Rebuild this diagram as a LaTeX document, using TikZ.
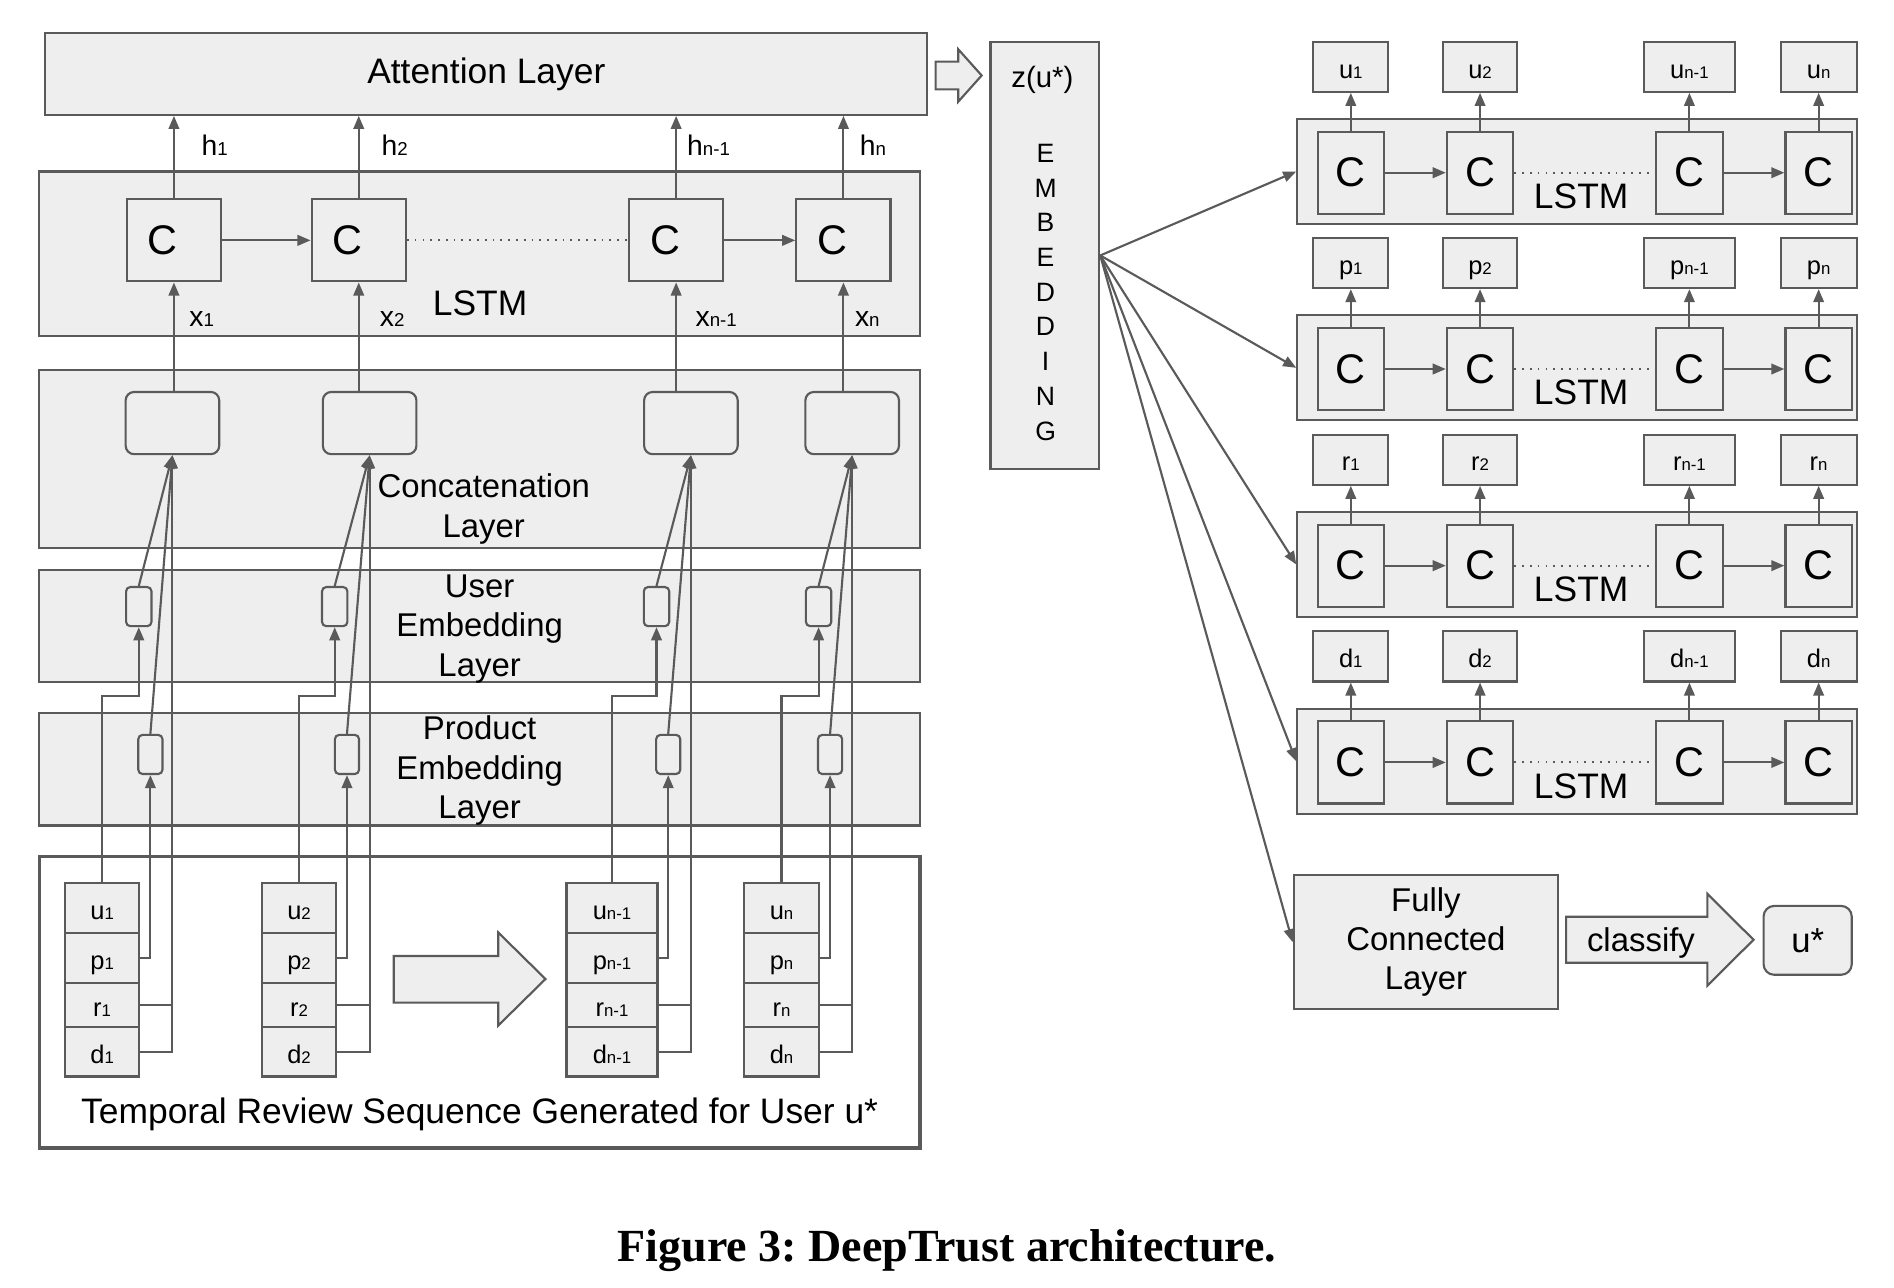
\documentclass[tikz,border=0pt]{standalone}
\usepackage{fontspec}
\setmainfont{Liberation Sans}
\newfontfamily\captionfont{Liberation Serif}
\usepackage{xcolor}
\usepackage{graphicx}
\usepackage{tikz}
\usetikzlibrary{arrows.meta,positioning}
\definecolor{linegray}{RGB}{90,90,90}
\definecolor{boxgray}{RGB}{238,238,238}
\newcommand{\lsub}[1]{\scalebox{0.66}{#1}}
\frenchspacing

\begin{document}
\begin{tikzpicture}[x=0.012cm, y=-0.012cm, line width=0.6pt]
    % Define styles
    \tikzset{wh/.style 2 args={minimum width=#1*0.012cm, minimum height=#2*0.012cm}}
    \tikzstyle{layer} = [rectangle, draw=linegray, fill=boxgray, inner sep=0pt]
    \tikzstyle{cell} = [rectangle, draw=linegray, fill=boxgray, inner sep=0pt, font=\fontsize{11.7}{14}\selectfont]
    \tikzstyle{slot} = [rectangle, draw=linegray, fill=boxgray, inner sep=0pt, rounded corners=1.2pt]
    \tikzstyle{rec} = [rectangle, draw=linegray, fill=boxgray, inner sep=0pt, text height=6.6pt, text depth=0.2pt, font=\fontsize{7.2}{8}\selectfont]
    \tikzstyle{headtxt} = [font=\fontsize{10}{12}\selectfont, inner sep=0pt]
    \tikzstyle{midtxt} = [font=\fontsize{9.3}{11.1}\selectfont, align=center, inner sep=0pt]
    \tikzstyle{lbl} = [font=\fontsize{8}{9}\selectfont, inner sep=0pt]
    \tikzstyle{arrow} = [draw=linegray, -{Triangle[length=1.3mm, width=1.05mm]}]
    \tikzstyle{link} = [draw=linegray]
    \tikzstyle{dots} = [draw=linegray, dash pattern=on 0.5pt off 1.7pt]
    \tikzstyle{hollow} = [draw=linegray, fill=boxgray, line join=miter]

    \useasboundingbox (0,0) rectangle (1568,1066);

    % Attention layer and LSTM
    \node [layer, wh={730}{67.5}, headtxt] (att) at (402.6,61.3) {Attention Layer};
    \node [layer, wh={729}{136}] (lstmL) at (397.1,210) {};
    \node [headtxt, anchor=base] (lstmLtxt) at (397.5,260.8) {LSTM};
    \foreach \i/\x in {1/144, 2/297, 3/559.75, 4/698.25}
        \node [cell, wh={78}{68}] (cL\i) at (\x,199) {C\kern0.22cm};

    % h and x labels
    \node [lbl, anchor=base west] (h1) at (166,129) {h\lsub{1}};
    \node [lbl, anchor=base west] (h2) at (315,129) {h\lsub{2}};
    \node [lbl, anchor=base west] (h3) at (568,129) {h\lsub{n-1}};
    \node [lbl, anchor=base west] (h4) at (711,129) {h\lsub{n}};
    \node [lbl, anchor=base west] (x1) at (156,270) {x\lsub{1}};
    \node [lbl, anchor=base west] (x2) at (313.6,270) {x\lsub{2}};
    \node [lbl, anchor=base west] (x3) at (575,270) {x\lsub{n-1}};
    \node [lbl, anchor=base west] (x4) at (707,270) {x\lsub{n}};

    % Concatenation and embedding layers
    \node [layer, wh={729}{147.2}] (catL) at (397.1,380.2) {};
    \node [midtxt] (catTxt) at (400.5,421.5) {Concatenation\\Layer};
    \node [layer, wh={729}{93.2}] (usrL) at (397.1,518.2) {};
    \node [midtxt] (usrTxt) at (397.1,520.8) {User\\Embedding\\Layer};
    \node [layer, wh={729}{93.4}] (prdL) at (397.1,636.7) {};
    \node [midtxt] (prdTxt) at (397.1,638) {Product\\Embedding\\Layer};
    \foreach \i/\x in {1/142.75, 2/306, 3/572, 4/705.5}
        \node [slot, wh={77.5}{51.5}, rounded corners=2.4pt] (cat\i) at (\x,350.25) {};
    \foreach \i/\x in {1/114.9, 2/277.1, 3/543.5, 4/677.7}
        \node [slot, wh={21}{32.4}] (usr\i) at (\x,502.2) {};
    \foreach \i/\x in {1/124.5, 2/287.25, 3/553.2, 4/687.2}
        \node [slot, wh={20}{32.4}] (prd\i) at (\x,624.6) {};

    % Temporal review sequence
    \node [rectangle, draw=linegray, line width=1pt, wh={729}{241.5}] (seq) at (397.1,829.75) {};
    \node [headtxt, anchor=base] (seqTxt) at (397.1,929.9) {Temporal Review Sequence Generated for User u*};
    \foreach \i/\x/\w/\s in {1/84.55/61.7/1, 2/247.55/61.7/2, 3/506.65/75.3/n-1, 4/647/62/n} {
        \node [rec, wh={\w}{41.6}] (u\i) at (\x,751.9) {u\lsub{\s}};
        \node [rec, wh={\w}{41}] (p\i) at (\x,793.2) {p\lsub{\s}};
        \node [rec, wh={\w}{36.6}] (r\i) at (\x,832) {r\lsub{\s}};
        \node [rec, wh={\w}{40.9}] (d\i) at (\x,870.75) {d\lsub{\s}};
    }
    \draw [hollow] (326,791.4) -- (412.5,791.4) -- (412.5,772) -- (451.6,810.5) -- (412.5,849) -- (412.5,830) -- (326,830) -- cycle;

    % Arrows
    \foreach \i in {1,...,4} {
        \draw [arrow] (u\i.north) -- ++(0,-154.1) -| (usr\i.south);
        \draw [arrow] (p\i.east) -| (prd\i.south);
        \draw [link] (r\i.east) -- (r\i.east -| cat\i.south);
        \draw [arrow] (d\i.east) -| (cat\i.south);
        \draw [arrow] (usr\i.north) -- (cat\i.south);
        \draw [arrow] (prd\i.north) -- (cat\i.south);
        \draw [arrow] (cL\i.south |- cat\i.north) -- (cL\i.south);
        \draw [arrow] (cL\i.north) -- (cL\i.north |- att.south);
    }
    \draw [arrow] (cL1) -- (cL2);
    \draw [dots] (cL2) -- (cL3);
    \draw [arrow] (cL3) -- (cL4);

    % Embedding
    \draw [hollow] (774.6,51) -- (793.3,51) -- (793.3,40.8) -- (812.7,62.5) -- (793.3,84.2) -- (793.3,74) -- (774.6,74) -- cycle;
    \node [layer, wh={90}{353}] (emb) at (865,211.5) {};
    \node [lbl, font=\fontsize{8.3}{10}\selectfont] (zu) at (863,66.2) {z(u*)};
    \node [midtxt, font=\fontsize{7.5}{9.8}\selectfont] (embTxt) at (865.6,242) {E\\M\\B\\E\\D\\D\\I\\N\\G};

    % Right LSTMs
    \foreach \blk/\y/\ltr in {1/142/u, 2/304.5/p, 3/467.3/r, 4/630.2/d} {
        \node [layer, wh={463}{86.7}] (lstm\blk) at (1305.5,\y) {};
        \node [headtxt, anchor=base] (lstmTxt\blk) at (1309,\y+30.5) {LSTM};
        \foreach \col/\x/\w/\s in {1/1118.3/62/1, 2/1225.3/61/2, 3/1398.6/75.4/n-1, 4/1505.6/63/n} {
            \node [cell, wh={55}{68}] (c\blk\col) at (\x,\y+1) {C};
            \node [rec, wh={\w}{41.5}] (o\blk\col) at (\x,\y-86.75) {\ltr\lsub{\s}};
            \draw [arrow] (c\blk\col) -- (o\blk\col);
        }
        \draw [arrow] (c\blk1) -- (c\blk2);
        \draw [dots] (c\blk2) -- (c\blk3);
        \draw [arrow] (c\blk3) -- (c\blk4);
        \draw [arrow] (emb.east) -- (lstm\blk.west);
    }

    % Classifier
    \node [layer, wh={219}{111}, midtxt] (fc) at (1180.5,780) {Fully\\Connected\\Layer};
    \draw [arrow] (emb.east) -- (fc.west);
    \draw [hollow] (1296.5,759) -- (1413.5,759) -- (1413.5,740) -- (1451.7,778) -- (1413.5,816) -- (1413.5,797) -- (1296.5,797) -- cycle;
    \node [midtxt, anchor=base] (cls) at (1358.5,788) {classify};
    \node [slot, wh={73}{57}, rounded corners=3pt, font=\fontsize{9.8}{12}\selectfont] (ustar) at (1496.5,778.5) {u*};

    % Caption
    \node [font=\captionfont\bfseries\fontsize{13}{15}\selectfont, anchor=base, inner sep=0pt] (caption) at (784,1044.5) {Figure 3: DeepTrust architecture.};
\end{tikzpicture}
\end{document}
